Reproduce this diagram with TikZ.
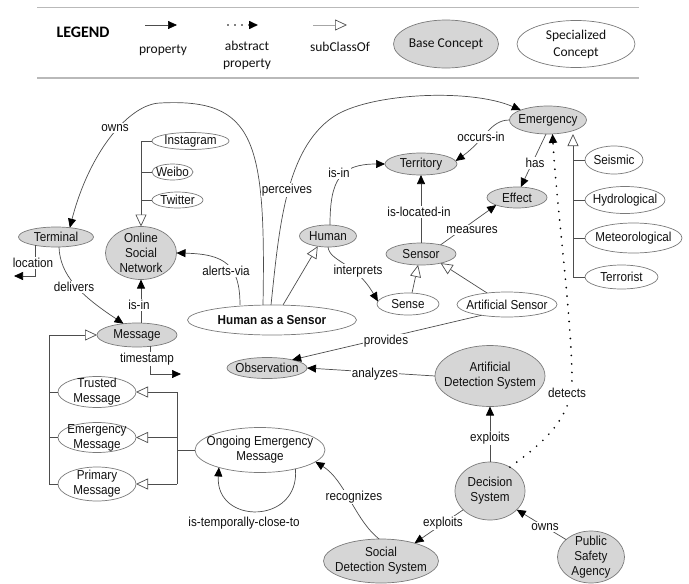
\documentclass[tikz,border=0pt]{standalone}
\usepackage{fontspec}
\setmainfont{Liberation Sans}[FakeStretch=0.9]
\newfontfamily\legfont{Carlito}
\usetikzlibrary{shapes.geometric,arrows.meta,calc}
\definecolor{basefill}{HTML}{D6D6D6}
\definecolor{edgecol}{HTML}{4D4D4D}
\definecolor{bordcol}{HTML}{7A7A7A}
\definecolor{txtcol}{HTML}{111111}
\newcommand{\lblfont}{\fontsize{13}{15}\selectfont}
\newcommand{\legtxtfont}{\legfont\fontsize{13.5}{17}\selectfont}
\begin{document}
\begin{tikzpicture}[x=1pt,y=-1pt,
  ell/.style={ellipse, draw=bordcol, line width=0.7pt, inner sep=-30pt, outer sep=0pt, align=center, font=\lblfont, text=txtcol},
  base/.style={ell, fill=basefill},
  spec/.style={ell, fill=white},
  sz/.style 2 args={minimum width=#1pt, minimum height=#2pt},
  edge/.style={draw=edgecol, line width=0.7pt},
  prop/.style={edge, -{Triangle[length=9pt,width=8pt,color=black]}},
  sub/.style={edge, -{Triangle[open,length=12pt,width=11pt,fill=white,color=edgecol]}},
  detect/.style={draw=black, line width=1.9pt, line cap=round, dash pattern=on 0pt off 8.5pt, -{Triangle[length=9pt,width=8pt,color=black]}},
  elab/.style={fill=white, inner sep=1pt, font=\lblfont, text=txtcol},
  legtext/.style={font=\legtxtfont, text=txtcol, align=center, inner sep=0pt}
]
\useasboundingbox (0,0) rectangle (689,584);

% ---------- legend ----------
\draw[gray!55, line width=0.6pt] (37,7) -- (639,7);
\draw[gray!55, line width=1.3pt] (37,78) -- (639,78);
\node[font=\legfont\bfseries\fontsize{16}{18}\selectfont, text=black] (legend) at (83,32) {LEGEND};
\coordinate (pa) at (145,25); \coordinate (pb) at (177,25);
\draw[prop] (pa) -- (pb);
\node[legtext] (proplab) at (163,50) {property};
\coordinate (aa) at (228,25); \coordinate (ab) at (258,25);
\draw[detect, line width=1.6pt, dash pattern=on 0pt off 7pt] (aa) -- (ab);
\node[legtext] (abslab) at (247,55) {abstract\\property};
\coordinate (sa) at (313,25); \coordinate (sb) at (347,25);
\draw[sub, draw=gray!70] (sa) -- (sb);
\node[legtext] (sublab) at (340,47) {subClassOf};
\node[base, sz={105}{48}, font=\legtxtfont] (basec) at (446,44) {Base Concept};
\node[spec, sz={118}{47}, font=\legtxtfont] (specc) at (576,44) {Specialized\\Concept};

% ---------- nodes ----------
\node[spec, sz={77}{17}] (instagram) at (190.5,141) {Instagram};
\node[spec, sz={41}{16}] (weibo) at (172.5,172) {Weibo};
\node[spec, sz={51}{16}] (twitter) at (177.5,200) {Twitter};
\node[base, sz={71}{53}] (osn) at (141,253) {Online\\Social\\Network};
\node[base, sz={75}{20}] (terminal) at (56,237) {Terminal};
\node[base, sz={77}{28}] (emergency) at (548,120) {Emergency};
\node[base, sz={72}{22}] (territory) at (421,164) {Territory};
\node[base, sz={60}{21}] (effect) at (517,197.5) {Effect};
\node[base, sz={57}{22}] (human) at (328,236) {Human};
\node[base, sz={70}{22}] (sensor) at (421,254) {Sensor};
\node[spec, sz={58}{28}] (seismic) at (614,160) {Seismic};
\node[spec, sz={80}{27}] (hydro) at (625,200) {Hydrological};
\node[spec, sz={97}{30}] (meteo) at (633.5,238) {Meteorological};
\node[spec, sz={73}{24}] (terrorist) at (621.5,277) {Terrorist};
\node[spec, sz={62}{22}] (sense) at (408,304) {Sense};
\node[spec, sz={100}{25}] (artsensor) at (507,304.5) {Artificial Sensor};
\node[spec, sz={169}{30}, font=\lblfont\bfseries] (haas) at (272,320) {Human as a Sensor};
\node[base, sz={80}{21}] (observation) at (267,368) {Observation};
\node[base, sz={110}{61}] (ads) at (490,376) {Artificial\\Detection System};
\node[base, sz={80}{24}] (message) at (137,335) {Message};
\node[spec, sz={78}{31}] (trusted) at (97,392) {Trusted\\Message};
\node[spec, sz={78}{30}] (emmsg) at (97,437.5) {Emergency\\Message};
\node[spec, sz={78}{34}] (primary) at (97,484) {Primary\\Message};
\node[spec, sz={130}{45}] (ongoing) at (260,450) {Ongoing Emergency\\Message};
\node[base, sz={70}{58}] (decision) at (490,491) {Decision\\System};
\node[base, sz={115}{44}] (sds) at (381,561) {Social\\Detection System};
\node[base, sz={67}{52}] (psa) at (591,557) {Public\\Safety\\Agency};

% ---------- subclass buses ----------
\draw[sub] (instagram.west) -- (instagram.west -| osn.north) -- (osn.north);
\draw[edge] (weibo.west) -- (weibo.west -| osn.north);
\draw[edge] (twitter.west) -- (twitter.west -| osn.north);

\coordinate (bx) at (573,0);
\draw[sub] (terrorist.west) -- (terrorist.west -| bx) -- (emergency.south -| bx);
\draw[edge] (seismic.west) -- (seismic.west -| bx);
\draw[edge] (hydro.west) -- (hydro.west -| bx);
\draw[edge] (meteo.west) -- (meteo.west -| bx);

\coordinate (lx) at (49,0);
\draw[sub] (primary.west) -- (primary.west -| lx) -- (message.west -| lx) -- (message.west);
\draw[edge] (trusted.west) -- (trusted.west -| lx);
\draw[edge] (emmsg.west) -- (emmsg.west -| lx);

\coordinate (rx) at (177,0);
\draw[edge] (ongoing.west) -- (ongoing.west -| rx);
\draw[edge] (trusted.east -| rx) -- (primary.east -| rx);
\draw[sub] (trusted.east -| rx) -- (trusted.east);
\draw[sub] (emmsg.east -| rx) -- (emmsg.east);
\draw[sub] (primary.east -| rx) -- (primary.east);

\draw[sub] ([xshift=4pt]sense.north) -- (sensor.255);
\draw[sub] (artsensor.150) -- (sensor.-25);
\draw[sub] ([xshift=11pt]haas.north) -- (human.225);

% ---------- properties ----------
\draw[prop] ([xshift=-9pt]haas.north) .. controls (266,140) and (255,98) .. (160,103)
            .. controls (130,104) and (90,150) .. (terminal.34);
\draw[prop] ([xshift=-1pt]haas.north) .. controls (279,230) and (285,150) .. (333,117)
            .. controls (368,93) and (470,88) .. (emergency.160);
\draw[prop] ([xshift=-32pt]haas.north) .. controls (240,265) and (225,254) .. (osn.east);
\draw[prop] ([xshift=3pt]terminal.south) .. controls (60,275) and (80,295) .. (message.140);
\coordinate (locend) at (14,276);
\draw[prop] ([xshift=-21pt,yshift=2pt]terminal.south) |- (locend);
\coordinate (tsend) at (181,374);
\draw[prop] ([xshift=13pt,yshift=1pt]message.south) |- (tsend);
\draw[prop] (message.north -| osn.south) -- (osn.south);
\draw[prop] ([xshift=2pt]human.north) .. controls (330,180) and (340,164) .. (territory.west);
\draw[prop] (emergency.west) .. controls (490,120) and (485,140) .. (territory.5);
\draw[prop] (emergency.262) -- (effect.70);
\draw[prop] (sensor.north) -- (territory.south);
\draw[prop] (sensor.25) -- (effect.200);
\draw[prop] (human.south) .. controls (330,262) and (355,262) .. (sense.175);
\draw[prop] (artsensor.203) -- (observation.18);
\draw[prop] (ads.west) -- (observation.east);
\draw[prop] (decision.north) -- (ads.south);
\draw[prop] (decision.215) -- (sds.28);
\draw[prop] (psa.145) -- (decision.325);
\draw[prop] (sds.95) .. controls (355,520) and (345,480) .. (ongoing.-12);
\draw[prop] (ongoing.-28) .. controls (300,525) and (215,525) .. (ongoing.203);
\draw[detect] (decision.50) .. controls (540,445) and (572,420) .. (572,380)
              .. controls (572,320) and (556,200) .. (emergency.-72);

% ---------- edge labels ----------
\node[elab] (l-owns) at (115,128) {owns};
\node[elab] (l-perc) at (287,190) {perceives};
\node[elab] (l-isin1) at (339,173) {is-in};
\node[elab] (l-occ) at (481,137) {occurs-in};
\node[elab] (l-has) at (535,163) {has};
\node[elab] (l-loc) at (419,212) {is-located-in};
\node[elab] (l-meas) at (472,230) {measures};
\node[elab] (l-interp) at (358,271) {interprets};
\node[elab] (l-alert) at (226,271) {alerts-via};
\node[elab] (l-location) at (33,263) {location};
\node[elab] (l-deliv) at (74,287) {delivers};
\node[elab] (l-isin2) at (139,305) {is-in};
\node[elab] (l-ts) at (147,359) {timestamp};
\node[elab] (l-prov) at (386,341) {provides};
\node[elab] (l-anal) at (375,374) {analyzes};
\node[elab] (l-det) at (567,393) {detects};
\node[elab] (l-expl1) at (490,438) {exploits};
\node[elab] (l-expl2) at (443,523) {exploits};
\node[elab] (l-owns2) at (545,527) {owns};
\node[elab] (l-recog) at (354,497) {recognizes};
\node[elab] (l-temp) at (244,523) {is-temporally-close-to};
\end{tikzpicture}
\end{document}
